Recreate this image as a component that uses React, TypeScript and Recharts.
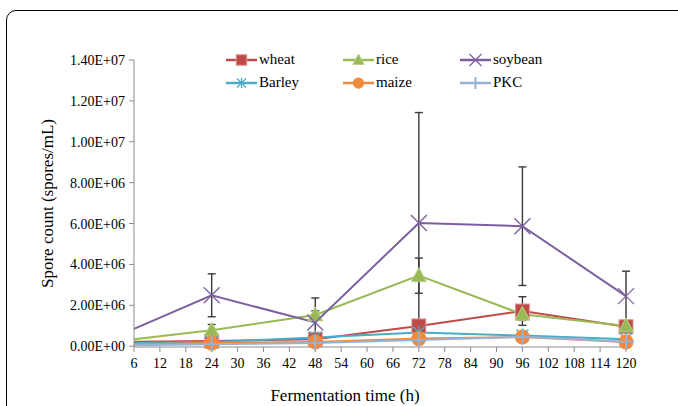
import React from 'react';
import { ErrorBar, Legend, Line, LineChart, XAxis, YAxis } from 'recharts';

const hours = [6, 24, 48, 72, 96, 120];
const xTicks = [6, 12, 18, 24, 30, 36, 42, 48, 54, 60, 66, 72, 78, 84, 90, 96, 102, 108, 114, 120];
const yTicks = [0, 2e6, 4e6, 6e6, 8e6, 10e6, 12e6, 14e6];

const wheat = [2.2e5, 2.5e5, 3.4e5, 9.9e5, 1.72e6, 9.5e5];
const rice = [3.4e5, 7.8e5, 1.53e6, 3.45e6, 1.56e6, 9.9e5];
const soybean = [8.5e5, 2.49e6, 1.16e6, 6.03e6, 5.87e6, 2.45e6];
const barley = [1.5e5, 2.0e5, 4.2e5, 6.7e5, 5.2e5, 3.4e5];
const maize = [1.0e5, 1.5e5, 2.1e5, 3.7e5, 4.5e5, 2.1e5];
const pkc = [5e4, 1.0e5, 1.5e5, 3.0e5, 4.6e5, 2.2e5];

const wheatErr = [null, 8e4, 1e5, 2.5e5, 7e5, 2e5];
const riceErr = [null, 2.8e5, 2e5, 8.6e5, 3e5, 1.5e5];
const soybeanErr = [null, 1.05e6, 1.2e6, 5.4e6, 2.9e6, 1.22e6];
const barleyErr = [null, 5e4, 8e4, 1e5, 1e5, 5e4];
const maizeErr = [null, 4e4, 6e4, 8e4, 8e4, 4e4];
const pkcErr = [null, 3e4, 5e4, 6e4, 6e4, 3e4];

const data = hours.map((t, i) => ({
  t,
  wheat: wheat[i], wheatErr: wheatErr[i],
  rice: rice[i], riceErr: riceErr[i],
  soybean: soybean[i], soybeanErr: soybeanErr[i],
  barley: barley[i], barleyErr: barleyErr[i],
  maize: maize[i], maizeErr: maizeErr[i],
  pkc: pkc[i], pkcErr: pkcErr[i],
}));

type Shape = 'square' | 'triangle' | 'x' | 'star' | 'circle' | 'plus';

const SERIES: { key: string; name: string; color: string; shape: Shape }[] = [
  { key: 'wheat', name: 'wheat', color: '#BE4B48', shape: 'square' },
  { key: 'rice', name: 'rice', color: '#98B954', shape: 'triangle' },
  { key: 'soybean', name: 'soybean', color: '#7D5FA0', shape: 'x' },
  { key: 'barley', name: 'Barley', color: '#4AACC5', shape: 'star' },
  { key: 'maize', name: 'maize', color: '#F08A3C', shape: 'circle' },
  { key: 'pkc', name: 'PKC', color: '#95B3D7', shape: 'plus' },
];

const FONT = '"Liberation Serif", "Times New Roman", serif';

function Marker({ shape, color, cx, cy, s = 1 }: { shape: Shape; color: string; cx: number; cy: number; s?: number }) {
  switch (shape) {
    case 'square':
      return <rect x={cx - 7 * s} y={cy - 7 * s} width={14 * s} height={14 * s} fill={color} stroke="#D99694" strokeWidth={1} />;
    case 'triangle':
      return (
        <polygon
          points={`${cx},${cy - 8 * s} ${cx + 7.5 * s},${cy + 6 * s} ${cx - 7.5 * s},${cy + 6 * s}`}
          fill={color}
          stroke="#B9D08F"
          strokeWidth={1}
        />
      );
    case 'x':
      return (
        <g stroke={color} strokeWidth={1.3}>
          <line x1={cx - 8 * s} y1={cy - 8 * s} x2={cx + 8 * s} y2={cy + 8 * s} />
          <line x1={cx - 8 * s} y1={cy + 8 * s} x2={cx + 8 * s} y2={cy - 8 * s} />
        </g>
      );
    case 'star':
      return (
        <g stroke={color} strokeWidth={1.3}>
          <line x1={cx - 6 * s} y1={cy - 6 * s} x2={cx + 6 * s} y2={cy + 6 * s} />
          <line x1={cx - 6 * s} y1={cy + 6 * s} x2={cx + 6 * s} y2={cy - 6 * s} />
          <line x1={cx} y1={cy - 7 * s} x2={cx} y2={cy + 7 * s} />
        </g>
      );
    case 'circle':
      return <circle cx={cx} cy={cy} r={7.5 * s} fill={color} />;
    case 'plus':
      return (
        <g stroke={color} strokeWidth={2}>
          <line x1={cx - 8 * s} y1={cy} x2={cx + 8 * s} y2={cy} />
          <line x1={cx} y1={cy - 8 * s} x2={cx} y2={cy + 8 * s} />
        </g>
      );
  }
}

// no marker at the 6 h starting point, same as the original figure
const makeDot = (shape: Shape, color: string) => (props: any) => {
  const { cx, cy, payload, index } = props;
  if (payload.t === 6 || cx == null || cy == null) return <g key={`d-${index}`} />;
  return (
    <g key={`d-${index}`}>
      <Marker shape={shape} color={color} cx={cx} cy={cy} />
    </g>
  );
};

const fmtSci = (v: number) => {
  if (v === 0) return '0.00E+00';
  const exp = Math.floor(Math.log10(v));
  const mant = v / Math.pow(10, exp);
  return `${mant.toFixed(2)}E+${String(exp).padStart(2, '0')}`;
};

function ChartLegend() {
  return (
    <div
      style={{
        display: 'grid',
        gridTemplateColumns: '117px 117px 117px',
        rowGap: 4,
        fontFamily: FONT,
        fontSize: 15,
        color: '#000',
      }}
    >
      {SERIES.map((s) => (
        <div key={s.key} style={{ display: 'flex', alignItems: 'center', height: 19 }}>
          <svg width={31} height={16} style={{ marginRight: 2 }}>
            <line x1={0} y1={8} x2={31} y2={8} stroke={s.color} strokeWidth={2.5} />
            <Marker shape={s.shape} color={s.color} cx={15.5} cy={8} s={0.75} />
          </svg>
          <span>{s.name}</span>
        </div>
      ))}
    </div>
  );
}

export default function App() {
  return (
    <div style={{ position: 'absolute', left: 0, top: 0, width: 678, height: 406, background: '#fff', overflow: 'hidden' }}>
      <div
        style={{
          position: 'absolute',
          left: 6,
          top: 10,
          width: 700,
          height: 440,
          border: '1.6px solid #000',
          borderRadius: 10,
        }}
      />
      <LineChart
        width={678}
        height={406}
        data={data}
        margin={{ top: 60, right: 52, bottom: 0, left: 0 }}
        style={{ position: 'absolute', left: 0, top: 0 }}
      >
        <XAxis
          dataKey="t"
          type="number"
          domain={[6, 120]}
          ticks={xTicks}
          interval={0}
          height={59}
          stroke="#8c8c8c"
          tickSize={5}
          tickMargin={6}
          tick={{ fill: '#000', fontSize: 14, fontFamily: FONT }}
          label={{
            value: 'Fermentation time (h)',
            position: 'insideBottom',
            offset: 5,
            dx: -35,
            style: { fill: '#000', fontSize: 17, fontFamily: FONT },
          }}
        />
        <YAxis
          domain={[0, 14e6]}
          ticks={yTicks}
          width={134}
          stroke="#8c8c8c"
          tickSize={5}
          tickMargin={4}
          tickFormatter={fmtSci}
          tick={{ fill: '#000', fontSize: 14, fontFamily: FONT }}
          label={{
            value: 'Spore count (spores/mL)',
            angle: -90,
            position: 'center',
            dx: -20,
            style: { fill: '#000', fontSize: 17, fontFamily: FONT, textAnchor: 'middle' },
          }}
        />
        <Legend
          layout="horizontal"
          verticalAlign="middle"
          align="center"
          wrapperStyle={{ top: 50, left: 226, width: 360 }}
          content={() => <ChartLegend />}
        />
        {SERIES.map((s) => (
          <Line
            key={s.key}
            dataKey={s.key}
            name={s.name}
            stroke={s.color}
            strokeWidth={2}
            dot={makeDot(s.shape, s.color)}
            activeDot={false}
            isAnimationActive={false}
          >
            <ErrorBar
              dataKey={`${s.key}Err`}
              direction="y"
              width={4}
              stroke="#3a3a3a"
              strokeWidth={1.4}
              isAnimationActive={false}
            />
          </Line>
        ))}
      </LineChart>
    </div>
  );
}
